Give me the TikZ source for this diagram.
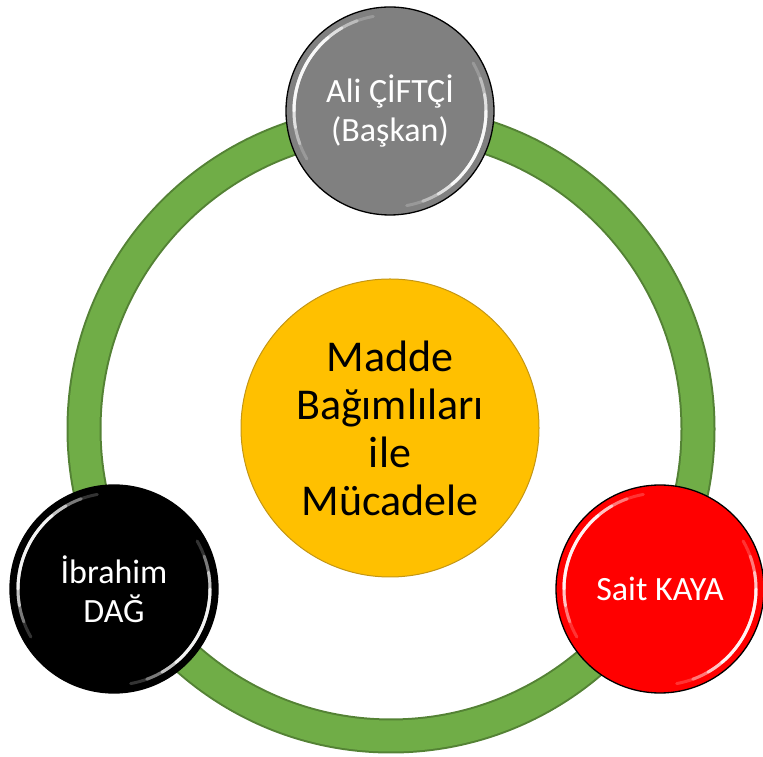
\documentclass[tikz,border=0pt]{standalone}
\usepackage{fontspec}
\setmainfont{Carlito}
\usetikzlibrary{shapes,positioning,calc}
\definecolor{ringgreen}{RGB}{112,173,71}
\definecolor{ringedge}{RGB}{84,130,53}
\definecolor{topicgold}{RGB}{255,192,0}
\definecolor{topicedge}{RGB}{196,150,20}
\definecolor{chairgray}{RGB}{128,128,128}

% white glass reflections on a member circle
\newcommand{\gloss}[1]{%
  \foreach \a/\b/\o in {100/210/0.2, 110/200/0.35, 120/190/0.55, 130/180/0.8}
    \draw[white, line width=3pt, opacity=\o, line cap=round] ($(#1.center)+(\a:96)$) arc[start angle=\a, end angle=\b, radius=96];
  \foreach \a/\b/\o in {-80/30/0.2, -70/20/0.35, -60/10/0.55, -50/0/0.8}
    \draw[white, line width=3pt, opacity=\o, line cap=round] ($(#1.center)+(\a:96)$) arc[start angle=\a, end angle=\b, radius=96];
}

\begin{document}
\begin{tikzpicture}[x=1pt, y=1pt,
    member/.style={circle, draw=black, line width=1.3pt, minimum size=208pt, inner sep=0pt, align=center, text=white, font=\fontsize{34}{39}\selectfont},
    topic/.style={circle, draw=topicedge, line width=1pt, fill=topicgold, minimum size=298pt, inner sep=0pt, align=center, font=\fontsize{44}{48}\selectfont}]
  \useasboundingbox (0,0) rectangle (763,757);

  % ring
  \coordinate (hub) at (391,328);
  \draw[ringedge, line width=35pt] (hub) circle[radius=307];
  \draw[ringgreen, line width=31pt] (hub) circle[radius=307];

  \node[topic] (madde) at (390,329) {Madde\\Bağımlıları\\ile\\Mücadele};

  \node[member, fill=chairgray] (ali) at (390,646) {Ali ÇİFTÇİ\\(Başkan)};
  \node[member, fill=black] (ibrahim) at (114,168) {İbrahim\\DAĞ};
  \node[member, fill=red] (sait) at (660,168) {Sait KAYA};

  \gloss{ali}
  \gloss{ibrahim}
  \gloss{sait}
\end{tikzpicture}
\end{document}
